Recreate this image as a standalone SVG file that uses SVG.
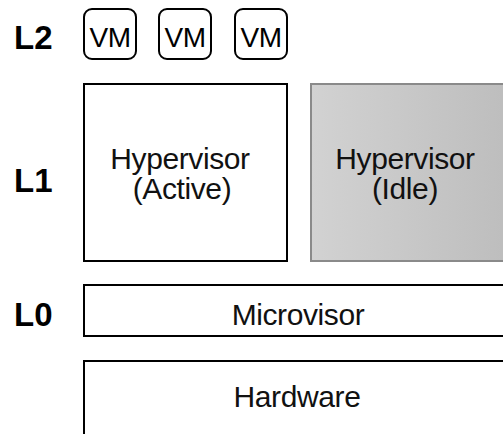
<svg xmlns="http://www.w3.org/2000/svg" width="503" height="434" viewBox="0 0 503 434">
<style>
.lbl{font-family:"Liberation Sans",Arial,sans-serif;font-weight:bold;font-size:33px;fill:#000}
.t{font-family:"Liberation Sans",Arial,sans-serif;font-size:30px;letter-spacing:-0.4px;fill:#111;text-anchor:middle}
.vm{font-family:"Liberation Sans",Arial,sans-serif;font-size:28px;letter-spacing:-0.5px;fill:#000;text-anchor:middle}
.box{fill:#fff;stroke:#000;stroke-width:2}
.vmbox{fill:#fff;stroke:#000;stroke-width:2}
</style>
<defs>
<linearGradient id="g" x1="0" y1="0" x2="1" y2="0">
<stop offset="0" stop-color="#d2d2d2"/>
<stop offset="1" stop-color="#bcbcbc"/>
</linearGradient>
</defs>
<rect width="503" height="434" fill="#fff"/>
<text class="lbl" x="14" y="49">L2</text>
<text class="lbl" x="14" y="192">L1</text>
<text class="lbl" x="14" y="326">L0</text>
<g id="vm1"><rect class="vmbox" x="84" y="9" width="52" height="50" rx="8"/><text class="vm" x="110" y="47">VM</text></g>
<g id="vm2"><rect class="vmbox" x="159" y="9" width="52" height="50" rx="8"/><text class="vm" x="185" y="47">VM</text></g>
<g id="vm3"><rect class="vmbox" x="235" y="9" width="52" height="50" rx="8"/><text class="vm" x="261" y="47">VM</text></g>
<g id="hv-active"><rect class="box" x="84" y="84" width="203" height="177"/><text class="t" x="180" y="169">Hypervisor</text><text class="t" x="182" y="199">(Active)</text></g>
<g id="hv-idle"><rect x="311" y="84" width="210" height="177" fill="url(#g)" stroke="#8a8a8a" stroke-width="2"/><text class="t" x="405" y="169">Hypervisor</text><text class="t" x="405" y="199">(Idle)</text></g>
<g id="microvisor"><rect class="box" x="84" y="285" width="440" height="51" stroke-width="1.5"/><text class="t" x="298" y="325">Microvisor</text></g>
<g id="hardware"><rect class="box" x="84" y="361" width="440" height="100" stroke-width="1.5"/><text class="t" x="297" y="407">Hardware</text></g>
<g id="connectors"/>
</svg>
